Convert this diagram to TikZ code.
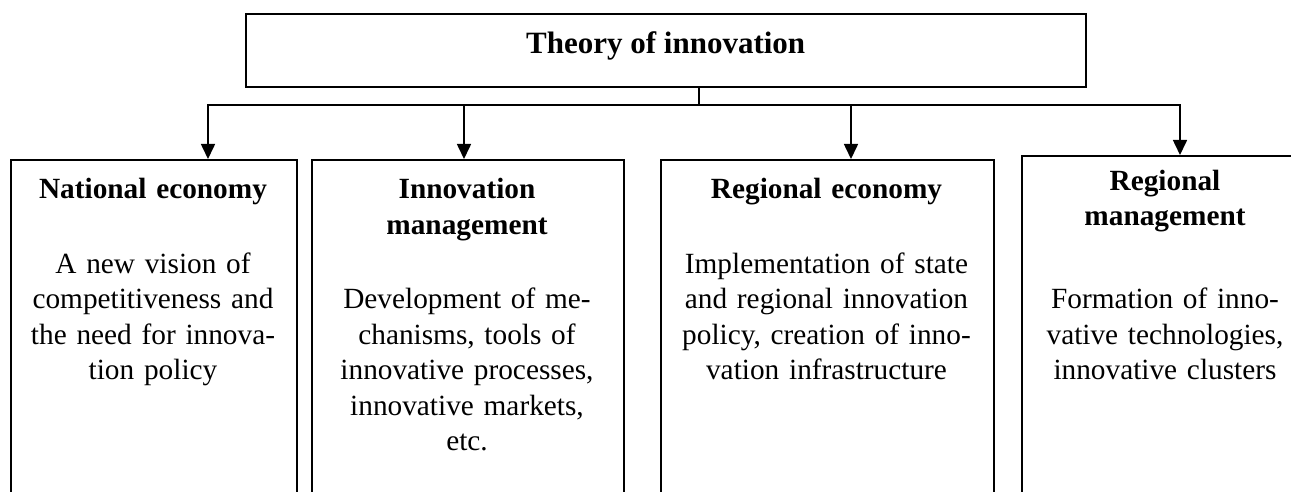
\documentclass[tikz,border=0pt]{standalone}
\usepackage{fontspec}
\setmainfont{Liberation Serif}
\usetikzlibrary{arrows.meta}
\begin{document}
\begin{tikzpicture}[x=1pt,y=-1pt,line width=1.6pt,
  box/.style={draw,rectangle,inner sep=0pt,anchor=north west},
  txt/.style={align=center,inner sep=0pt,anchor=base,font=\fontsize{29.3}{35.6}\selectfont},
  arr/.style={-{Triangle[width=14pt,length=15pt]}}]
\useasboundingbox (0,0) rectangle (1291,492);
\clip (0,0) rectangle (1291,492);
% title
\node[draw,rectangle,inner sep=0pt,minimum width=840pt,text height=39.3pt,text depth=33.7pt,
  font=\fontsize{31}{37}\selectfont\bfseries] (title) at (665.7,50.5) {Theory of innovation};
% boxes
\node[box,minimum width=286pt,minimum height=380pt] (n1) at (10,159) {};
\node[box,minimum width=312pt,minimum height=380pt] (n2) at (311,159) {};
\node[box,minimum width=333pt,minimum height=380pt] (n3) at (660,159) {};
\node[box,minimum width=288pt,minimum height=380pt] (n4) at (1021,155) {};
% connectors
\coordinate (s) at (699,105);
\coordinate (a1) at (208,105);
\coordinate (a2) at (464,105);
\coordinate (a3) at (851,105);
\coordinate (a4) at (1180,105);
\draw (title.south -| s) -- (s);
\draw[{Triangle[width=14pt,length=15pt]}-{Triangle[width=14pt,length=15pt]}]
  (a1 |- n1.north) -- (a1) -- (a4) -- (a4 |- n4.north);
\draw[arr] (a2) -- (a2 |- n2.north);
\draw[arr] (a3) -- (a3 |- n3.north);
% texts
\node[txt,text width=276pt] (t1) at (153,199) {\textbf{National economy}\\[38.4pt]A new vision of\\competitiveness and\\the need for innova-\\tion policy};
\node[txt,text width=302pt] (t2) at (467,199) {\textbf{Innovation}\\\textbf{management}\\[38.4pt]Development of me-\\chanisms, tools of\\innovative processes,\\innovative markets,\\etc.};
\node[txt,text width=323pt] (t3) at (826.5,199) {\textbf{Regional economy}\\[38.4pt]Implementation of state\\and regional innovation\\policy, creation of inno-\\vation infrastructure};
\node[txt,text width=278pt] (t4) at (1165,190) {\textbf{Regional}\\\textbf{management}\\[47.4pt]Formation of inno-\\vative technologies,\\innovative clusters};
\end{tikzpicture}
\end{document}
